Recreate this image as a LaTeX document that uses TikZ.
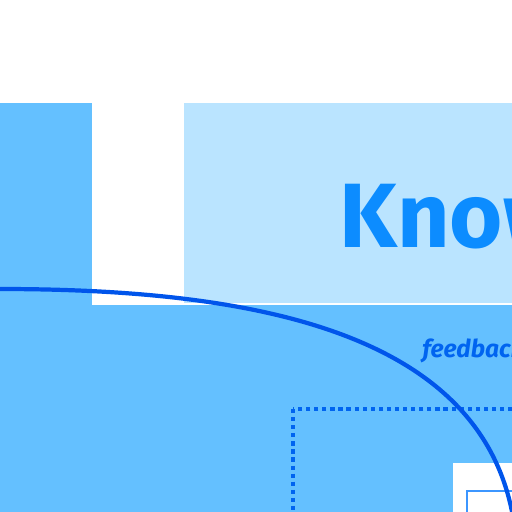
\documentclass[tikz,border=0pt]{standalone}
\usepackage{fontspec}
\setmainfont{Fira Sans}
\usetikzlibrary{positioning}
\definecolor{paneblue}{RGB}{100,192,255}
\definecolor{titleblue}{RGB}{186,228,255}
\definecolor{inkblue}{RGB}{12,140,255}
\definecolor{curveblue}{RGB}{0,85,235}
\definecolor{dotblue}{RGB}{0,100,240}
\definecolor{frameblue}{RGB}{60,150,255}
\tikzset{
  pane/.style={fill=paneblue, draw=none},
  gap/.style={fill=white, draw=none},
  titlepane/.style={fill=titleblue, draw=none},
  dotframe/.style={draw=dotblue, line width=2.2pt, dash pattern=on 2.4pt off 2.2pt},
  innerframe/.style={draw=frameblue, line width=0.6pt, fill=white},
  fbcurve/.style={draw=curveblue, line width=2.4pt},
  titletext/.style={inner sep=0pt, text=inkblue, font=\fontsize{52}{52}\selectfont\bfseries},
  fbtext/.style={inner sep=0pt, text=dotblue, font=\fontsize{14}{14}\selectfont\bfseries\itshape},
}
\begin{document}
\begin{tikzpicture}[x=0.02cm, y=-0.02cm]
  \useasboundingbox (0,0) rectangle (512,512);
  \clip (0,0) rectangle (512,512);
  \fill[white] (0,0) rectangle (512,512);
  % panels
  \fill[pane] (-10,103) rectangle (600,600);
  \fill[gap] (92,103) rectangle (600,305);
  \fill[titlepane] (184,103) rectangle (600,303);
  \node[titletext, anchor=base west] (know) at (339,247) {Knowledge};
  % inner loop area
  \draw[dotframe] (293,409) rectangle (620,620);
  \fill[gap] (453,463) rectangle (600,600);
  \draw[innerframe] (467,491) rectangle (620,620);
  % feedback curve
  \coordinate (fbstart) at (-10,289);
  \coordinate (fbend) at (515,530);
  \draw[fbcurve] (fbstart) -- (0,289) .. controls (250,289) and (490,330) .. (fbend);
  \node[fbtext, anchor=base west] (fb) at (422,357) {feedback};
\end{tikzpicture}
\end{document}
